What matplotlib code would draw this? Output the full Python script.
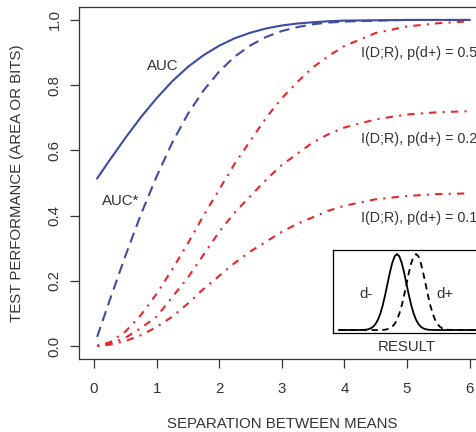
import matplotlib
matplotlib.use('Agg')
import numpy as np
import matplotlib.pyplot as plt

plt.rcParams['font.family'] = ['Liberation Sans', 'DejaVu Sans']

# separation between means
sep = [0.05, 0.25, 0.5, 0.75, 1.0, 1.25, 1.5, 1.75, 2.0, 2.25, 2.5, 2.75, 3.0, 3.25, 3.5, 3.75,
       4.0, 4.5, 5.0, 5.5, 6.0]

# test performance values
auc = [0.514, 0.570, 0.638, 0.702, 0.760, 0.812, 0.856, 0.892, 0.921, 0.944, 0.961, 0.974, 0.983, 0.989,
       0.993, 0.996, 0.998, 0.999, 1.0, 1.0, 1.0]
auc_star = [0.028, 0.140, 0.276, 0.404, 0.520, 0.624, 0.712, 0.784, 0.842, 0.888, 0.922, 0.948, 0.966, 0.978,
            0.987, 0.992, 0.995, 0.998, 1.0, 1.0, 1.0]
info_p50 = [0.0005, 0.011, 0.044, 0.095, 0.16, 0.235, 0.315, 0.40, 0.48, 0.56, 0.63, 0.70, 0.76, 0.81,
            0.855, 0.89, 0.92, 0.96, 0.98, 0.99, 0.996]
info_p20 = [0.0003, 0.006, 0.025, 0.055, 0.09, 0.15, 0.21, 0.28, 0.35, 0.41, 0.46, 0.51, 0.555, 0.59,
            0.625, 0.65, 0.67, 0.695, 0.71, 0.717, 0.72]
info_p10 = [0.0002, 0.004, 0.015, 0.033, 0.058, 0.09, 0.13, 0.175, 0.215, 0.255, 0.29, 0.32, 0.35, 0.375,
            0.395, 0.415, 0.43, 0.45, 0.46, 0.466, 0.468]

x_ticks = [0, 1, 2, 3, 4, 5, 6]
y_ticks = [0.0, 0.2, 0.4, 0.6, 0.8, 1.0]

# inset: bell shape (offset in sd units, relative height)
bell_off = [-4, -3.5, -3.25, -3, -2.75, -2.5, -2.25, -2, -1.75, -1.5, -1.25, -1, -0.75, -0.5, -0.25, 0,
            0.25, 0.5, 0.75, 1, 1.25, 1.5, 1.75, 2, 2.25, 2.5, 2.75, 3, 3.25, 3.5, 4]
bell_h = [0, 0.002, 0.005, 0.011, 0.023, 0.044, 0.080, 0.135, 0.216, 0.325, 0.458, 0.607, 0.755, 0.882, 0.969, 1.0,
          0.969, 0.882, 0.755, 0.607, 0.458, 0.325, 0.216, 0.135, 0.080, 0.044, 0.023, 0.011, 0.005, 0.002, 0]
d_minus_center = 0.383
d_plus_center = 0.497
bell_sd = 0.057

blue = '#3d4c9e'
red = '#e8262b'
txt = '#333333'
fs = 10.8

fig = plt.figure(figsize=(4.76, 4.32), dpi=100)
ax = fig.add_axes([0.166, 0.169, 0.852, 0.815])

ax.plot(sep, auc, color=blue, lw=1.5)
ax.plot(sep, auc_star, color=blue, lw=1.5, linestyle=(0, (5, 3)))
for vals in [info_p50, info_p20, info_p10]:
    ax.plot(sep, vals, color=red, lw=1.5, linestyle=(0, (1, 3, 3.5, 3)))

ax.set_xlim(-0.24, 6.24)
ax.set_ylim(-0.04, 1.04)
ax.set_xticks(x_ticks)
ax.set_yticks(y_ticks)
ax.set_xticklabels([str(v) for v in x_ticks])
ax.set_yticklabels(['%.1f' % v for v in y_ticks], rotation=90, va='center')
ax.tick_params(direction='out', length=6.5, width=0.9, color='#333333',
               labelsize=fs, labelcolor=txt)
ax.tick_params(axis='x', pad=10)
ax.tick_params(axis='y', pad=6)
for s in ax.spines.values():
    s.set_color('#333333')
    s.set_linewidth(0.9)

ax.set_xlabel('SEPARATION BETWEEN MEANS', fontsize=fs, color=txt, labelpad=15)
ax.set_ylabel('TEST PERFORMANCE (AREA OR BITS)', fontsize=fs, color=txt, labelpad=17)

ax.text(1.09, 0.858, 'AUC', fontsize=fs, color=txt, ha='center', va='center')
ax.text(0.43, 0.446, 'AUC*', fontsize=fs, color=txt, ha='center', va='center')
for yy, lab in [(0.90, 'I(D;R), p(d+) = 0.5'), (0.634, 'I(D;R), p(d+) = 0.2'), (0.394, 'I(D;R), p(d+) = 0.1')]:
    ax.text(4.27, yy, lab, fontsize=10.3, color=txt, ha='left', va='center')

# inset with the two result distributions
ins = fig.add_axes([333 / 476, 1 - 333 / 432, 0.351, 83 / 432])
xm = [d_minus_center + o * bell_sd for o in bell_off]
xp = [d_plus_center + o * bell_sd for o in bell_off]
ins.plot([0.036] + xm + [1.0], [0] + bell_h + [0], color='black', lw=1.3)
ins.plot([0.036] + xp + [1.0], [0] + bell_h + [0], color='black', lw=1.3, linestyle=(0, (3.5, 2.5)))
ins.set_xlim(0, 1)
ins.set_ylim(-0.039, 1.053)
ins.set_xticks([])
ins.set_yticks([])
for s in ins.spines.values():
    s.set_color('black')
    s.set_linewidth(0.9)
ins.text(0.198, 0.47, 'd-', transform=ins.transAxes, fontsize=fs, color=txt, ha='center', va='center')
ins.text(0.67, 0.47, 'd+', transform=ins.transAxes, fontsize=fs, color=txt, ha='center', va='center')
fig.text(407 / 476, 1 - 347 / 432, 'RESULT', fontsize=fs, color=txt, ha='center', va='center')

fig.savefig('out.png', dpi=100)
